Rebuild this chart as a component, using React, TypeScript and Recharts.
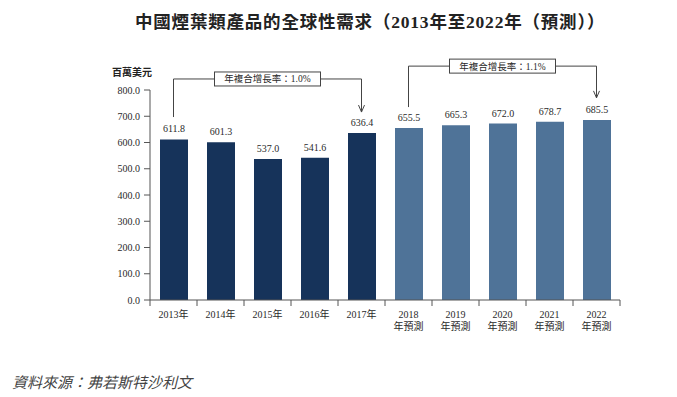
import React from "react";
import { BarChart, Bar, XAxis, YAxis, Cell, LabelList, ReferenceLine } from "recharts";

const years = ["2013", "2014", "2015", "2016", "2017", "2018", "2019", "2020", "2021", "2022"];
const demand = [611.8, 601.3, 537.0, 541.6, 636.4, 655.5, 665.3, 672.0, 678.7, 685.5];
const isForecast = [false, false, false, false, false, true, true, true, true, true];
const yTicks = [0, 100, 200, 300, 400, 500, 600, 700, 800];

const cagrLeft = "年複合增長率：1.0%";
const cagrRight = "年複合增長率：1.1%";

const DARK = "#16335a";
const LIGHT = "#4f7398";
const INK = "#2a2a2a";
const SERIF = "'Liberation Serif', 'Noto Sans CJK TC', serif";

const rows = years.map((y, i) => ({ year: y, value: demand[i], forecast: isForecast[i] }));

function YearTick(props: any) {
  const { x, y, payload, index } = props;
  const half = payload?.offset || 23.5;
  const row = rows.find((r) => r.year === payload.value);
  return (
    <g>
      <line x1={x - half} x2={x - half} y1={y} y2={y + 6} stroke="#555" />
      {index === rows.length - 1 && <line x1={x + half} x2={x + half} y1={y} y2={y + 6} stroke="#555" />}
      {row && row.forecast ? (
        <text textAnchor="middle" fontFamily={SERIF} fontSize={10} fill={INK}>
          <tspan x={x} y={y + 18}>{payload.value}</tspan>
          <tspan x={x} y={y + 30}>年預測</tspan>
        </text>
      ) : (
        <text x={x} y={y + 18} textAnchor="middle" fontFamily={SERIF} fontSize={10} fill={INK}>
          {payload.value}年
        </text>
      )}
    </g>
  );
}

function ArrowLine(props: any) {
  const { x1, y1, x2, y2 } = props;
  return (
    <g>
      <line x1={x1} y1={y1} x2={x2} y2={y2} stroke="#444" strokeWidth={1} />
      <polyline points={`${x2 - 3},${y2 - 7} ${x2},${y2} ${x2 + 3},${y2 - 7}`} fill="none" stroke="#444" strokeWidth={1} />
    </g>
  );
}

function PlainLine(props: any) {
  const { x1, y1, x2, y2 } = props;
  return <line x1={x1} y1={y1} x2={x2} y2={y2} stroke="#444" strokeWidth={1} />;
}

const boxShape = (text: string) => (props: any) => {
  const { x1, y1, x2, y2 } = props;
  const cx = (x1 + x2) / 2;
  const w = 106;
  const h = 14;
  return (
    <g>
      <line x1={x1} y1={y1} x2={x2} y2={y2} stroke="#444" strokeWidth={1} />
      <rect x={cx - w / 2} y={y1 - h / 2} width={w} height={h} fill="#fff" stroke="#444" strokeWidth={1} />
      <text x={cx} y={y1 + 3.5} textAnchor="middle" fontFamily={SERIF} fontSize={9.5} fill={INK}>
        {text}
      </text>
    </g>
  );
};

export default function App() {
  return (
    <div style={{ position: "absolute", left: 0, top: 0, width: 677, height: 397, background: "#fff" }}>
      <div
        style={{
          position: "absolute",
          left: 135,
          top: 8,
          fontFamily: SERIF,
          fontWeight: 700,
          fontSize: 17.5,
          color: "#222",
          whiteSpace: "nowrap",
          letterSpacing: 0.8,
        }}
      >
        中國煙葉類產品的全球性需求（2013年至2022年（預測））
      </div>
      <div
        style={{
          position: "absolute",
          left: 112,
          top: 64,
          fontFamily: SERIF,
          fontWeight: 700,
          fontSize: 10,
          color: "#222",
        }}
      >
        百萬美元
      </div>
      <BarChart width={677} height={397} data={rows} margin={{ top: 90, right: 57, bottom: 67, left: 100 }}>
        <YAxis
          width={50}
          domain={[0, 800]}
          ticks={yTicks}
          interval={0}
          tickFormatter={(v: number) => v.toFixed(1)}
          tick={{ fontSize: 10, fill: INK, fontFamily: SERIF }}
          stroke="#555"
          tickSize={6}
          tickMargin={4}
        />
        <XAxis
          dataKey="year"
          height={30}
          stroke="#555"
          tickLine={false}
          tickSize={0}
          tickMargin={0}
          interval={0}
          tick={<YearTick />}
        />
        <Bar dataKey="value" barSize={28} isAnimationActive={false}>
          {rows.map((r) => (
            <Cell key={r.year} fill={r.forecast ? LIGHT : DARK} />
          ))}
          <LabelList
            dataKey="value"
            position="top"
            offset={7}
            formatter={(v: any) => Number(v).toFixed(1)}
            style={{ fontSize: 10, fill: INK, fontFamily: SERIF }}
          />
        </Bar>
        <ReferenceLine ifOverflow="visible" segment={[{ x: "2013", y: 697 }, { x: "2013", y: 842 }]} shape={PlainLine} />
        <ReferenceLine ifOverflow="visible" segment={[{ x: "2013", y: 842 }, { x: "2017", y: 842 }]} shape={boxShape(cagrLeft)} />
        <ReferenceLine ifOverflow="visible" segment={[{ x: "2017", y: 842 }, { x: "2017", y: 716 }]} shape={ArrowLine} />
        <ReferenceLine ifOverflow="visible" segment={[{ x: "2018", y: 735 }, { x: "2018", y: 891 }]} shape={PlainLine} />
        <ReferenceLine ifOverflow="visible" segment={[{ x: "2018", y: 891 }, { x: "2022", y: 891 }]} shape={boxShape(cagrRight)} />
        <ReferenceLine ifOverflow="visible" segment={[{ x: "2022", y: 891 }, { x: "2022", y: 770 }]} shape={ArrowLine} />
      </BarChart>
      <div
        style={{
          position: "absolute",
          left: 12,
          top: 371,
          fontFamily: SERIF,
          fontStyle: "italic",
          fontSize: 15,
          color: "#444",
          whiteSpace: "nowrap",
        }}
      >
        資料來源：弗若斯特沙利文
      </div>
    </div>
  );
}
